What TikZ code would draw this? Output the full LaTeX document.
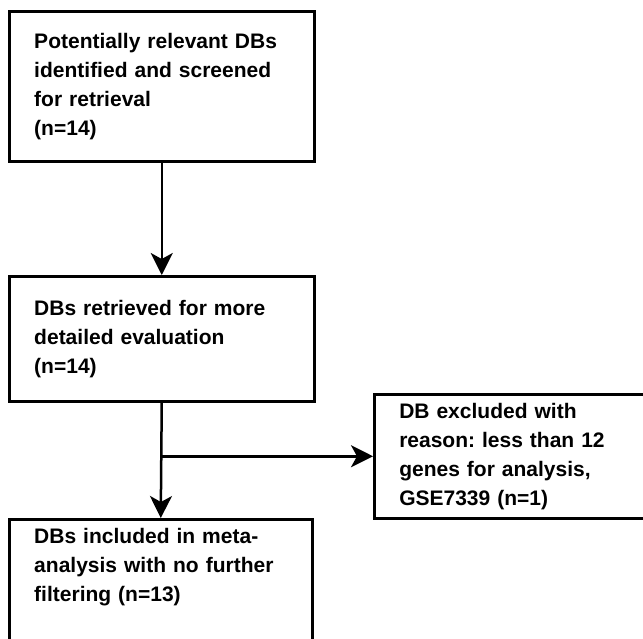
\documentclass[tikz,border=0pt]{standalone}
\usepackage{fontspec}
\setmainfont{Liberation Sans}
\usetikzlibrary{arrows.meta}
\frenchspacing

\begin{document}
\begin{tikzpicture}[x=1pt,y=-1pt,
  box/.style={draw,line width=2.5pt,anchor=north west,align=left,inner xsep=25pt,
    font=\fontsize{21pt}{29pt}\selectfont\bfseries},
  arr/.style={line width=2.5pt,-{Stealth[length=22pt,width=22pt,inset=6pt]}}]
\useasboundingbox (0,0) rectangle (643,638);
\clip (0,0) rectangle (643,638);
\node[box,minimum height=150pt,text width=255pt] (screen) at (8,10) {Potentially relevant DBs\\identified and screened\\for retrieval\\(n=14)};
\node[box,minimum height=125pt,text width=255pt] (retr) at (8,275) {DBs retrieved for more\\detailed evaluation\\(n=14)};
\node[box,minimum height=124pt,text width=230pt] (excl) at (373,393) {DB excluded with\\reason: less than 12\\genes for analysis,\\GSE7339 (n=1)};
\node[box,inner ysep=9pt,text width=253pt] (incl) at (8,518) {\parbox[c][110pt][t]{253pt}{DBs included in meta-\\analysis with no further\\filtering (n=13)}};
\coordinate (split) at (retr.south |- excl.west);
\draw[arr] (screen.south) -- (retr.north);
\draw[arr] (retr.south) -- (incl.north);
\draw[arr] (split) -- (excl.west);
\end{tikzpicture}
\end{document}
